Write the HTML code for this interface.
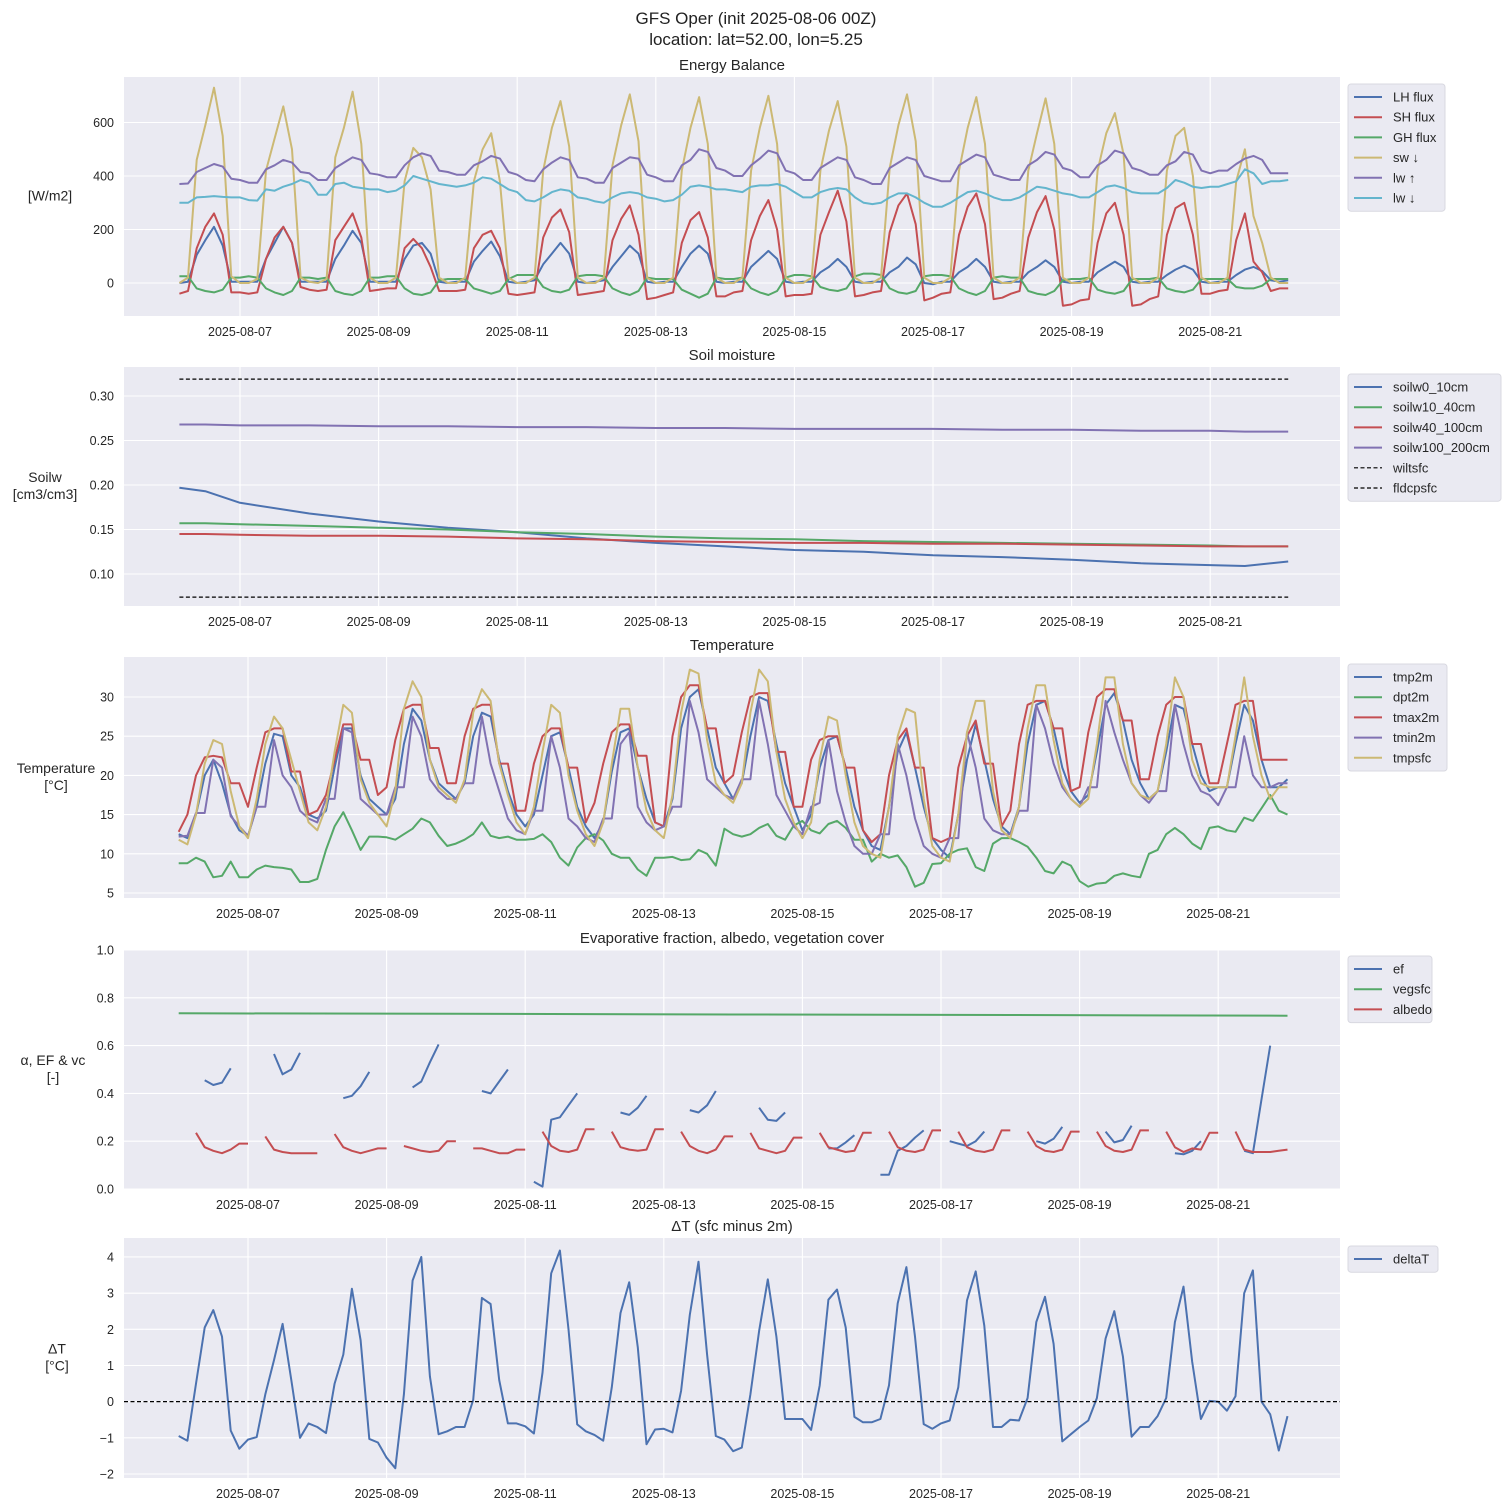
<!DOCTYPE html>
<html><head><meta charset="utf-8"><style>
html,body{margin:0;padding:0;background:#fff;}
svg{display:block;font-family:"Liberation Sans","DejaVu Sans",sans-serif;}
</style></head><body>
<svg id="fig" width="1511" height="1511" viewBox="0 0 1511 1511" xmlns="http://www.w3.org/2000/svg">
<text x="756" y="24" font-size="17" text-anchor="middle" fill="#222">GFS Oper (init 2025-08-06 00Z)</text>
<text x="756" y="45" font-size="17" text-anchor="middle" fill="#222">location: lat=52.00, lon=5.25</text>
</svg>
<script>
// ---------- data ----------
const dayTickLabels = ["2025-08-07","2025-08-09","2025-08-11","2025-08-13","2025-08-15","2025-08-17","2025-08-19","2025-08-21"];
const dayTickHours = [24,72,120,168,216,264,312,360];

const swDown = [0,20,460,590,730,550,25,0, 0,15,420,540,660,500,20,5, 0,15,470,580,715,520,20,0, 0,20,380,505,470,350,20,0, 0,20,380,500,560,380,20,0, 0,20,420,580,680,510,20,0, 0,20,440,590,705,530,20,0, 0,20,420,580,695,520,20,0, 0,20,420,580,700,520,20,0, 0,20,420,570,680,510,20,0, 0,20,430,590,705,530,20,0, 0,20,420,580,695,520,20,0, 0,20,420,560,690,520,20,0, 0,20,420,560,635,480,20,0, 0,20,420,550,580,400,20,0, 0,20,380,500,250,150,20,0,0];
const lwUp = [370,372,415,430,445,435,390,385, 375,375,425,440,460,450,415,410, 385,385,430,450,470,460,410,405, 395,395,440,470,485,475,420,415, 405,405,440,455,475,465,415,405, 385,380,425,450,470,460,395,390, 375,375,430,450,470,465,405,395, 380,380,440,460,500,490,430,420, 400,400,440,465,495,485,420,410, 385,385,430,450,470,460,395,385, 370,370,430,450,470,460,400,390, 380,380,440,460,480,470,405,395, 385,385,440,460,490,480,430,420, 395,395,440,460,495,485,430,420, 405,405,440,455,490,480,420,410, 420,420,445,465,475,460,410,410,410];
const lwDown = [300,300,320,322,325,322,320,320, 310,308,350,345,360,370,385,375, 330,330,370,375,360,355,350,350, 340,345,365,400,390,380,370,365, 360,365,375,395,390,370,350,340, 310,305,320,340,350,345,320,315, 305,300,320,335,340,335,320,315, 305,310,330,360,365,360,350,350, 345,340,360,365,365,370,360,340, 320,320,340,350,355,350,320,300, 295,300,320,335,335,320,300,285, 285,300,320,340,345,335,320,310, 310,320,340,360,355,345,335,330, 320,320,340,360,365,355,340,335, 335,335,355,385,375,360,355,360, 360,370,380,425,410,370,380,380,385];
const lhFlux = [0,5,105,160,210,140,5,5, 5,5,90,150,210,150,5,5, 5,5,90,140,195,150,5,5, 5,5,90,140,150,110,5,0, 5,5,80,120,155,100,5,0, 5,10,70,110,150,110,5,0, 5,10,60,100,140,110,5,0, 5,5,60,110,140,110,5,0, 5,5,60,90,120,90,5,0, 5,5,40,60,90,60,5,0, 5,5,40,60,95,70,0,-5, 5,5,40,60,90,60,5,0, 5,5,40,60,85,60,5,0, 5,5,40,60,80,60,5,0, 5,5,30,50,65,50,5,0, 5,5,30,50,60,45,10,5,10];
const shFlux = [-40,-30,130,210,260,180,-35,-35, -40,-35,90,170,210,150,-15,-25, -30,-25,160,210,260,170,-30,-25, -20,-20,130,165,130,60,-30,-30, -30,-25,130,180,195,130,-40,-45, -40,-35,170,245,275,190,-45,-40, -35,-30,160,240,290,180,-60,-55, -45,-35,150,235,265,170,-50,-50, -35,-30,160,250,310,200,-50,-45, -45,-40,180,265,345,230,-50,-45, -35,-30,190,290,335,220,-65,-55, -40,-35,180,285,335,220,-60,-55, -40,-30,170,265,325,200,-85,-80, -65,-60,150,260,300,180,-85,-80, -60,-50,180,280,300,180,-40,-40, -30,-25,160,260,80,40,-30,-20,-20];
const ghFlux = [25,25,-20,-30,-35,-25,20,20, 25,20,-20,-35,-45,-30,20,20, 15,20,-30,-40,-45,-30,20,20, 25,25,-20,-40,-45,-35,10,15, 15,15,-20,-30,-40,-30,15,30, 30,30,-15,-30,-35,-25,25,30, 30,25,-20,-35,-45,-30,20,15, 15,15,-25,-40,-55,-40,20,15, 15,20,-20,-35,-45,-30,20,30, 30,25,-15,-25,-30,-20,25,35, 35,30,-20,-35,-40,-30,25,30, 30,25,-20,-35,-45,-30,20,25, 20,20,-30,-40,-45,-30,10,15, 15,20,-25,-35,-40,-30,15,15, 15,20,-20,-30,-35,-25,15,15, 15,15,-15,-20,-20,-10,15,15,15];

const soilHours = [3,12,24,48,72,96,120,144,168,192,216,240,264,288,312,336,360,372,387];
const soilw0 = [0.197,0.193,0.180,0.168,0.159,0.152,0.147,0.140,0.135,0.131,0.127,0.125,0.121,0.119,0.116,0.112,0.110,0.109,0.114];
const soilw10 = [0.157,0.157,0.156,0.154,0.152,0.150,0.147,0.145,0.142,0.140,0.139,0.137,0.136,0.135,0.134,0.133,0.132,0.131,0.131];
const soilw40 = [0.145,0.145,0.144,0.143,0.143,0.142,0.140,0.139,0.137,0.136,0.135,0.135,0.134,0.134,0.133,0.132,0.131,0.131,0.131];
const soilw100 = [0.268,0.268,0.267,0.267,0.266,0.266,0.265,0.265,0.264,0.264,0.263,0.263,0.263,0.262,0.262,0.261,0.261,0.260,0.260];
const wiltsfc = 0.074;
const fldcpsfc = 0.319;

const tmp2m = [12.5,12.0,15.0,20.0,22.0,19.0,15.0,13.0, 12.3,16.0,21.5,25.3,25.0,20.0,18.5,15.0, 14.5,15.5,21.0,26.0,26.0,20.0,17.0,16.0, 15.0,17.0,24.0,28.5,27.0,22.0,19.0,18.0, 17.0,19.0,25.0,28.0,27.5,22.0,18.0,15.0, 13.5,15.0,20.0,25.0,25.5,21.0,16.0,13.5, 12.0,14.0,20.5,25.5,26.0,21.0,17.0,14.0, 13.5,17.0,26.0,30.0,31.0,26.0,21.0,19.0, 17.0,19.0,25.0,30.0,29.5,24.0,19.0,16.0, 13.0,15.0,21.0,24.5,25.0,21.0,16.0,13.0, 11.0,10.5,16.0,23.0,25.5,21.0,16.0,12.0, 10.5,9.5,15.0,22.0,26.5,22.0,17.0,13.5, 12.5,16.0,24.0,29.0,29.5,26.0,21.0,18.0, 16.5,17.5,23.0,29.0,30.5,27.0,22.0,19.0, 17.0,18.0,23.0,29.0,28.5,24.0,20.0,18.0, 18.5,18.5,24.0,29.0,27.0,22.0,18.5,18.5,19.5];
const dpt2m = [8.8,8.8,9.5,9.0,7.0,7.2,9.0,7.0, 7.0,8.0,8.5,8.3,8.2,8.0,6.4,6.4, 6.8,10.5,13.5,15.3,13.0,10.5,12.2,12.2, 12.1,11.8,12.5,13.2,14.5,14.0,12.3,11.0, 11.3,11.8,12.5,14.0,12.3,12.0,12.2,11.8, 11.8,11.9,12.5,11.5,9.5,8.5,10.8,12.0, 12.5,11.7,10.0,9.5,9.5,8.0,7.2,9.5, 9.5,9.6,9.2,9.3,10.5,10.0,8.5,13.2, 12.5,12.2,12.5,13.3,13.8,12.3,11.8,13.6, 14.2,13.0,12.6,13.8,14.2,13.3,11.8,11.8, 9.0,10.0,9.5,9.8,8.3,5.8,6.3,8.7, 8.8,10.0,10.5,10.7,8.3,7.8,11.3,12.0, 12.0,11.5,10.9,9.5,7.8,7.5,9.0,8.5, 6.5,5.8,6.2,6.3,7.2,7.5,7.2,7.0, 10.0,10.5,12.5,13.3,12.5,11.3,10.6,13.3, 13.5,13.0,12.8,14.6,14.2,15.8,17.5,15.5,15.0];
const tmax2m = [12.8,15.0,20.0,22.3,22.5,22.3,19.0,19.0, 16.0,21.0,25.5,26.0,26.0,20.5,20.5,15.0, 15.5,17.5,22.0,26.5,26.5,22.0,22.0,17.5, 18.5,24.5,28.5,29.0,29.0,23.5,23.5,19.0, 19.0,25.0,28.5,29.0,29.0,21.5,21.5,15.5, 15.5,21.5,25.0,26.0,26.0,21.0,21.0,14.0, 16.5,21.5,25.5,26.5,26.5,22.5,22.5,14.0, 13.5,25.0,30.0,31.5,31.5,26.0,26.0,19.0, 20.0,25.5,30.0,30.5,30.5,23.0,23.0,16.0, 16.0,22.0,24.5,25.0,25.0,21.0,21.0,13.0, 11.5,12.5,20.0,24.5,26.0,21.0,21.0,12.0, 11.5,12.0,21.0,25.0,27.0,21.5,21.5,13.5, 15.5,24.0,29.0,29.5,29.5,26.0,26.0,18.0, 18.5,25.5,30.0,31.0,31.0,27.0,27.0,19.5, 19.5,25.0,29.0,30.0,30.0,24.0,24.0,19.0, 19.0,24.0,29.0,29.5,29.5,22.0,22.0,22.0,22.0];
const tmin2m = [12.2,12.3,15.2,15.2,22.0,21.0,14.8,13.5, 12.3,16.0,16.0,24.5,20.0,18.5,15.5,14.5, 14.0,17.0,17.0,26.0,25.5,17.0,16.0,15.0, 15.0,18.5,18.5,27.5,25.0,19.5,18.0,17.0, 17.0,19.0,19.0,27.5,21.5,18.0,14.5,13.0, 12.5,15.5,15.5,25.0,21.0,14.5,13.5,12.0, 11.5,14.5,14.5,24.0,25.5,16.0,14.0,13.0, 13.5,16.0,16.0,29.5,25.5,19.5,18.5,17.5, 17.0,19.5,19.5,29.5,24.0,17.5,15.5,13.5, 12.5,16.0,16.5,24.5,18.0,14.0,11.0,10.0, 10.0,12.5,12.5,24.0,20.0,14.5,11.0,10.0, 9.5,12.0,12.0,25.5,21.0,14.5,13.0,12.5, 12.5,15.5,15.5,29.0,26.0,21.5,18.5,17.0, 16.0,18.5,18.5,29.5,25.5,22.0,19.0,17.5, 16.5,18.0,18.0,29.0,24.0,20.0,18.0,17.5, 16.2,18.5,18.5,25.0,20.0,18.5,18.5,19.0,19.0];
const tmpsfc = [11.8,11.2,15.0,21.5,24.5,24.0,18.0,13.5, 12.0,17.0,24.0,27.5,26.0,22.0,18.0,14.0, 13.0,16.0,23.0,29.0,28.0,19.5,16.5,15.0, 13.5,18.0,28.5,32.0,30.0,22.0,18.5,17.5, 16.5,19.5,28.0,31.0,29.5,21.5,17.5,14.0, 12.5,16.0,23.0,29.0,28.0,20.0,15.5,12.5, 11.0,14.0,21.5,28.5,28.5,21.0,15.5,13.0, 12.0,17.5,28.0,33.5,33.0,24.5,19.0,17.5, 16.5,19.0,28.0,33.5,32.0,23.0,17.0,14.0, 12.0,14.0,22.0,27.5,27.0,20.0,14.0,11.0, 10.0,9.5,16.0,25.0,28.5,28.0,17.0,11.0, 9.5,9.0,15.0,25.5,29.5,29.5,18.0,13.0, 12.0,16.0,26.0,31.5,31.5,24.5,19.0,17.0, 16.0,17.0,24.0,32.5,32.5,24.0,19.0,17.5, 17.0,18.0,24.0,32.5,30.0,22.0,19.0,18.5, 18.5,18.5,25.0,32.5,25.0,20.0,17.0,18.5,18.5];

const vegHours = [0,96,192,288,384];
const vegsfc = [0.735,0.733,0.730,0.728,0.725];
const efStart = [3,11,19,27,35,41,51,59,67,75,81,89,99,107,115,123];
const efSegs = [[.455,.435,.445,.505],[.565,.48,.5,.57],[.38,.39,.43,.49],[.425,.45,.53,.605],[.41,.4,.45,.5],[.03,.01,.29,.3,.35,.4],[.32,.31,.34,.39],[.33,.32,.35,.41],[.34,.29,.285,.32],[.17,.17,.195,.225],[.06,.06,.16,.18,.215,.245],[.2,.19,.18,.2,.24],[.2,.19,.21,.26],[.24,.195,.205,.265],[.15,.145,.16,.2],[.16,.15,.375,.6]];
const albStart = [2,10,18,26,34,42,50,58,66,74,82,90,98,106,114,122];
const albSegs = [[.235,.175,.16,.15,.165,.19,.19],[.22,.165,.155,.15,.15,.15,.15],[.23,.175,.16,.15,.16,.17,.17],[.18,.17,.16,.155,.16,.20,.20],[.17,.17,.16,.15,.15,.165,.165],[.24,.18,.16,.155,.165,.25,.25],[.24,.175,.165,.16,.165,.25,.25],[.24,.18,.16,.15,.165,.22,.22],[.235,.17,.16,.15,.16,.215,.215],[.235,.175,.165,.155,.16,.235,.235],[.24,.175,.16,.155,.165,.245,.245],[.24,.175,.16,.155,.165,.245,.245],[.24,.18,.16,.155,.165,.24,.24],[.24,.18,.16,.155,.165,.245,.245],[.24,.175,.155,.17,.165,.235,.235],[.24,.165,.155,.155,.155,.16,.165]];

const deltaT = [-0.95,-1.08,0.5,2.05,2.53,1.8,-0.8,-1.3, -1.05,-0.98,0.2,1.15,2.15,0.6,-1.0,-0.6, -0.7,-0.87,0.5,1.3,3.12,1.7,-1.03,-1.13, -1.55,-1.84,0.2,3.35,4.0,0.7,-0.9,-0.82, -0.7,-0.7,0.05,2.87,2.7,0.6,-0.6,-0.6, -0.68,-0.88,0.8,3.55,4.18,2.0,-0.63,-0.82, -0.92,-1.08,0.4,2.45,3.3,1.5,-1.18,-0.77, -0.75,-0.85,0.3,2.4,3.87,1.3,-0.95,-1.05, -1.37,-1.27,0.2,1.95,3.38,1.8,-0.48,-0.48, -0.48,-0.78,0.45,2.82,3.1,2.05,-0.42,-0.57, -0.57,-0.48,0.45,2.72,3.72,1.8,-0.62,-0.75, -0.6,-0.52,0.4,2.8,3.6,2.1,-0.7,-0.7, -0.5,-0.52,0.1,2.2,2.9,1.6,-1.1,-0.9, -0.7,-0.52,0.1,1.75,2.5,1.25,-0.97,-0.7, -0.7,-0.4,0.1,2.2,3.18,1.1,-0.48,0.02, 0.0,-0.25,0.15,3.0,3.63,0.0,-0.35,-1.35,-0.4];

// ---------- drawing ----------
const NS = "http://www.w3.org/2000/svg";
const svg = document.getElementById("fig");
const L = 124, R = 1340, W = R - L;
const pxPerHour = 2.8875;
const xA = h => 170.7 + h * pxPerHour;
const xB = h => 178.7 + h * pxPerHour;
const C = {blue:"#4C72B0", red:"#C44E52", green:"#55A868", yellow:"#CCB974", purple:"#8172B2", cyan:"#64B5CD"};

function mk(tag, attrs, parent) {
  const e = document.createElementNS(NS, tag);
  for (const k in attrs) e.setAttribute(k, attrs[k]);
  (parent || svg).appendChild(e);
  return e;
}
function pathFrom(xs, ys) {
  let d = "", pen = false;
  for (let i = 0; i < xs.length; i++) {
    if (ys[i] === null || ys[i] === undefined) { pen = false; continue; }
    d += (pen ? "L" : "M") + xs[i].toFixed(1) + " " + ys[i].toFixed(1);
    pen = true;
  }
  return d;
}
function series(g, hours, vals, xf, yf, color, name, dash) {
  const xs = hours.map(xf);
  const ys = vals.map(v => v === null ? null : yf(v));
  const p = mk("path", {d: pathFrom(xs, ys), fill: "none", stroke: color, "stroke-width": dash ? 1.2 : 2, "stroke-linejoin": "round"}, g);
  if (dash) p.setAttribute("stroke-dasharray", "4 2.5");
  
  
}
function panel(opts) {
  const g = mk("g", {});
  
  
  const bg = mk("rect", {x: L, y: opts.top, width: W, height: opts.h, fill: "#EAEAF2"}, g);
  
  
  dayTickHours.forEach((h, i) => {
    const x = opts.xf(h);
    mk("line", {x1: x, x2: x, y1: opts.top, y2: opts.top + opts.h, stroke: "#fff", "stroke-width": 1.1}, g);
    const t = mk("text", {x: x, y: opts.top + opts.h + 20, "font-size": 12.5, "text-anchor": "middle", fill: "#262626"}, g);
    t.textContent = dayTickLabels[i];
    
    
  });
  opts.yticks.forEach((v, i) => {
    const y = opts.yf(v);
    mk("line", {x1: L, x2: R, y1: y, y2: y, stroke: "#fff", "stroke-width": 1.1}, g);
    const t = mk("text", {x: 114, y: y + 4.5, "font-size": 12.5, "text-anchor": "end", fill: "#262626"}, g);
    t.textContent = opts.ylabels[i];
    
    
  });
  const tt = mk("text", {x: (L + R) / 2, y: opts.top - 7, "font-size": 15, "text-anchor": "middle", fill: "#262626"}, g);
  tt.textContent = opts.title;
  
  
  const yl = opts.ytitle;
  const cy = opts.top + opts.h / 2 - (yl.length - 1) * 8.5 + 4;
  yl.forEach((s, i) => {
    const t = mk("text", {x: opts.ytx, y: cy + i * 17, "font-size": 14, "text-anchor": "middle", fill: "#262626"}, g);
    t.textContent = s;
    
    
  });
  return g;
}
function legend(top, width, entries) {
  const g = mk("g", {});
  
  
  mk("rect", {x: 1348, y: top, width: width, height: entries.length * 20.2 + 6, rx: 3, fill: "#EAEAF2", stroke: "#d8d8e0", "stroke-width": 1}, g);
  entries.forEach((e, i) => {
    const y = top + 13 + i * 20.2;
    mk("line", {x1: 1354, x2: 1382, y1: y, y2: y, stroke: e[1], "stroke-width": e[2] ? 1.2 : 2, "stroke-dasharray": e[2] ? "4 2.5" : "none"}, g);
    const t = mk("text", {x: 1393, y: y + 4.5, "font-size": 13, fill: "#262626"}, g);
    t.textContent = e[0];
    
    
  });
}
const fluxHours = swDown.map((_, i) => 3 + 3 * i);
const tHours = tmp2m.map((_, i) => 3 * i);

{
  const yf = v => 283 - v * 0.2675;
  const g = panel({name: "energy-balance-panel", top: 77, h: 239, xf: xA, yf, ytx: 50, yticks: [0,200,400,600], ylabels: ["0","200","400","600"], title: "Energy Balance", ytitle: ["[W/m2]"]});
  series(g, fluxHours, lhFlux, xA, yf, C.blue, "lh-flux-line");
  series(g, fluxHours, shFlux, xA, yf, C.red, "sh-flux-line");
  series(g, fluxHours, ghFlux, xA, yf, C.green, "gh-flux-line");
  series(g, fluxHours, swDown, xA, yf, C.yellow, "sw-down-line");
  series(g, fluxHours, lwUp, xA, yf, C.purple, "lw-up-line");
  series(g, fluxHours, lwDown, xA, yf, C.cyan, "lw-down-line");
  legend(84, 97, [["LH flux", C.blue],["SH flux", C.red],["GH flux", C.green],["sw ↓", C.yellow],["lw ↑", C.purple],["lw ↓", C.cyan]]);
}
{
  const yf = v => 574 - (v - 0.10) * 890;
  const g = panel({name: "soil-moisture-panel", top: 367, h: 239, xf: xA, yf, ytx: 45, yticks: [0.10,0.15,0.20,0.25,0.30], ylabels: ["0.10","0.15","0.20","0.25","0.30"], title: "Soil moisture", ytitle: ["Soilw","[cm3/cm3]"]});
  series(g, soilHours, soilw0, xA, yf, C.blue, "soilw0-10cm-line");
  series(g, soilHours, soilw10, xA, yf, C.green, "soilw10-40cm-line");
  series(g, soilHours, soilw40, xA, yf, C.red, "soilw40-100cm-line");
  series(g, soilHours, soilw100, xA, yf, C.purple, "soilw100-200cm-line");
  series(g, [3, 387], [wiltsfc, wiltsfc], xA, yf, "#000", "wiltsfc-line", true);
  series(g, [3, 387], [fldcpsfc, fldcpsfc], xA, yf, "#000", "fldcpsfc-line", true);
  legend(374, 153, [["soilw0_10cm", C.blue],["soilw10_40cm", C.green],["soilw40_100cm", C.red],["soilw100_200cm", C.purple],["wiltsfc", "#000", 1],["fldcpsfc", "#000", 1]]);
}
{
  const yf = v => 893 - (v - 5) * 7.84;
  const g = panel({name: "temperature-panel", top: 657, h: 241, xf: xB, yf, ytx: 56, yticks: [5,10,15,20,25,30], ylabels: ["5","10","15","20","25","30"], title: "Temperature", ytitle: ["Temperature","[°C]"]});
  series(g, tHours, tmp2m, xB, yf, C.blue, "tmp2m-line");
  series(g, tHours, dpt2m, xB, yf, C.green, "dpt2m-line");
  series(g, tHours, tmax2m, xB, yf, C.red, "tmax2m-line");
  series(g, tHours, tmin2m, xB, yf, C.purple, "tmin2m-line");
  series(g, tHours, tmpsfc, xB, yf, C.yellow, "tmpsfc-line");
  legend(664, 99, [["tmp2m", C.blue],["dpt2m", C.green],["tmax2m", C.red],["tmin2m", C.purple],["tmpsfc", C.yellow]]);
}
{
  const yf = v => 1189 - v * 239;
  const g = panel({name: "ef-albedo-vegetation-panel", top: 950, h: 239, xf: xB, yf, ytx: 53, yticks: [0,0.2,0.4,0.6,0.8,1.0], ylabels: ["0.0","0.2","0.4","0.6","0.8","1.0"], title: "Evaporative fraction, albedo, vegetation cover", ytitle: ["α, EF & vc","[-]"]});
  const n = tmp2m.length;
  const ef = new Array(n).fill(null), alb = new Array(n).fill(null);
  efStart.forEach((s, k) => efSegs[k].forEach((v, j) => { if (s + j < n) ef[s + j] = v; }));
  albStart.forEach((s, k) => albSegs[k].forEach((v, j) => { if (s + j < n) alb[s + j] = v; }));
  series(g, tHours, ef, xB, yf, C.blue, "ef-line");
  series(g, vegHours, vegsfc, xB, yf, C.green, "vegsfc-line");
  series(g, tHours, alb, xB, yf, C.red, "albedo-line");
  legend(956, 84, [["ef", C.blue],["vegsfc", C.green],["albedo", C.red]]);
}
{
  const yf = v => 1474 - (v + 2) * 36.17;
  const g = panel({name: "delta-t-panel", top: 1238, h: 240, xf: xB, yf, ytx: 57, yticks: [-2,-1,0,1,2,3,4], ylabels: ["−2","−1","0","1","2","3","4"], title: "ΔT (sfc minus 2m)", ytitle: ["ΔT","[°C]"]});
  const dh = deltaT.map((_, i) => 3 * i);
  series(g, dh, deltaT, xB, yf, C.blue, "delta-t-line");
  const z = mk("line", {x1: L, x2: R, y1: yf(0), y2: yf(0), stroke: "#000", "stroke-width": 1.2, "stroke-dasharray": "4 2.5"}, g);
  
  
  legend(1246, 90, [["deltaT", C.blue]]);
}
</script>
</body></html>
